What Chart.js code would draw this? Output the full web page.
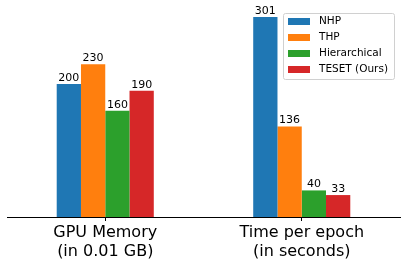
<!DOCTYPE html>
<html>
<head>
<meta charset="utf-8">
<script src="https://cdn.jsdelivr.net/npm/chart.js@4/dist/chart.umd.min.js"></script>
<style>
  html, body { margin: 0; padding: 0; background: #fff; }
  #wrap { width: 407px; height: 267px; }
</style>
</head>
<body>
<div id="wrap"><canvas id="chart"></canvas></div>
<script>
// values
const categories = [['GPU Memory', '(in 0.01 GB)'], ['Time per epoch', '(in seconds)']]
const seriesNames = ['NHP', 'THP', 'Hierarchical', 'TESET (Ours)']
const nhp = [200, 301]
const thp = [230, 136]
const hierarchical = [160, 40]
const teset = [190, 33]
const colors = ['#1f77b4', '#ff7f0e', '#2ca02c', '#d62728']

const FONT = 'DejaVu Sans'

// value labels above each bar
const barLabels = {
  id: 'barLabels',
  afterDatasetsDraw (chart) {
    const ctx = chart.ctx
    ctx.save()
    ctx.font = `11px "${FONT}"`
    ctx.fillStyle = '#000'
    ctx.textAlign = 'center'
    ctx.textBaseline = 'bottom'
    chart.data.datasets.forEach((ds, i) => {
      chart.getDatasetMeta(i).data.forEach((bar, j) => {
        ctx.fillText(String(ds.data[j]), bar.x, bar.y - 0.5)
      })
    })
    ctx.restore()
  }
}

// matplotlib-like legend inside the upper right corner
const boxLegend = {
  id: 'boxLegend',
  afterDraw (chart) {
    const ctx = chart.ctx
    const area = chart.chartArea
    const w = 111, h = 66
    const x = area.right - w - 6, y = area.top + 6
    ctx.save()
    ctx.fillStyle = 'rgba(255,255,255,0.8)'
    ctx.strokeStyle = '#d0d0d0'
    ctx.lineWidth = 1
    ctx.beginPath()
    ctx.roundRect(x + 0.5, y + 0.5, w, h, 2)
    ctx.fill()
    ctx.stroke()
    ctx.font = `10.5px "${FONT}"`
    ctx.textBaseline = 'middle'
    chart.data.datasets.forEach((ds, i) => {
      const cy = y + 8.5 + i * 16
      ctx.fillStyle = ds.backgroundColor
      ctx.fillRect(x + 5, cy - 3.5, 22, 7)
      ctx.fillStyle = '#000'
      ctx.fillText(ds.label, x + 36, cy)
    })
    ctx.restore()
  }
}

const seriesData = [nhp, thp, hierarchical, teset]

new Chart(document.getElementById('chart'), {
  type: 'bar',
  data: {
    labels: categories,
    datasets: seriesNames.map((name, i) => ({
      label: name,
      data: seriesData[i],
      backgroundColor: colors[i],
      borderWidth: 0
    }))
  },
  options: {
    responsive: true,
    maintainAspectRatio: false,
    animation: false,
    devicePixelRatio: 1,
    layout: { padding: { left: 7, right: 7, top: 7, bottom: 0 } },
    datasets: { bar: { categoryPercentage: 0.494, barPercentage: 1 } },
    plugins: {
      legend: { display: false },
      tooltip: { enabled: false }
    },
    scales: {
      x: {
        grid: {
          display: true,
          drawOnChartArea: false,
          drawTicks: true,
          tickLength: 4,
          offset: false,
          color: '#000'
        },
        border: { display: true, color: '#000', width: 1 },
        ticks: {
          color: '#000',
          font: { family: FONT, size: 16 },
          padding: 2,
          maxRotation: 0
        },
        afterFit (scale) { scale.height = 50 }
      },
      y: {
        display: false,
        min: 0,
        max: 316
      }
    }
  },
  plugins: [barLabels, boxLegend]
})
</script>
</body>
</html>
